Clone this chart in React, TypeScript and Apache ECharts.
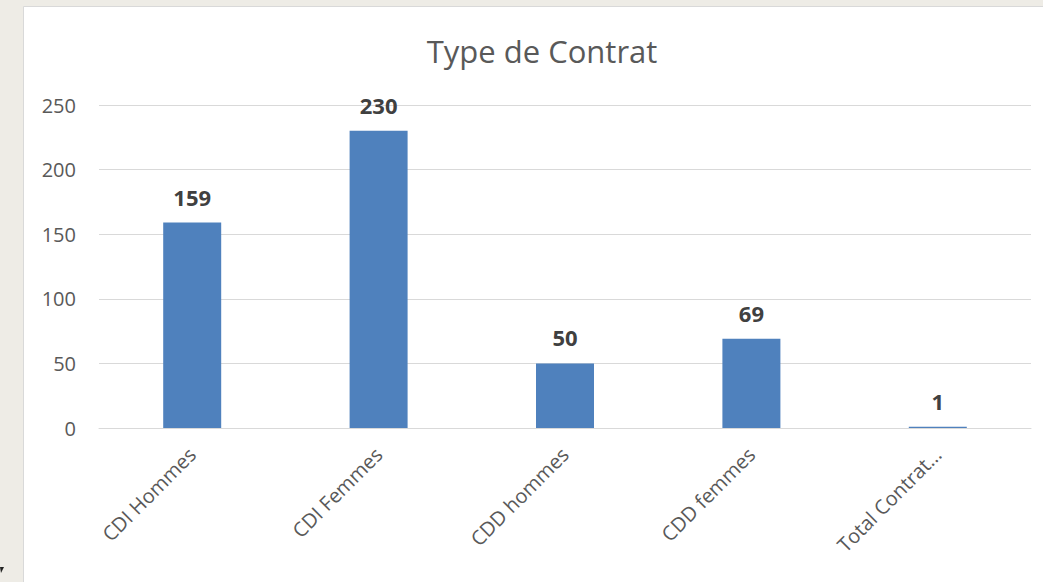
import React, { useEffect, useRef } from "react";
import * as echarts from "echarts";

const categories = ["CDI Hommes", "CDI Femmes", "CDD hommes", "CDD femmes", "Total Contrat…"];
const values = [159, 230, 50, 69, 1];
const yTicks = [0, 50, 100, 150, 200, 250];

export default function App() {
  const ref = useRef<HTMLDivElement>(null);
  useEffect(() => {
    document.body.style.margin = "0";
    const chart = echarts.init(ref.current!, null, { renderer: "svg" });
    const font = "'Open Sans', 'Noto Sans', sans-serif";
    chart.setOption({
      animation: false,
      backgroundColor: "#EEECE6",
      textStyle: { fontFamily: font },
      title: {
        text: "Type de Contrat",
        left: 537,
        textAlign: "center",
        top: 30,
        textStyle: { fontFamily: font, fontSize: 31, fontWeight: "normal", color: "#595959" },
      },
      graphic: [
        {
          type: "rect",
          shape: { x: 23.5, y: 6.5, width: 1030, height: 590 },
          style: { fill: "#ffffff", stroke: "#D9D9D9", lineWidth: 1 },
          z: -10,
        },
        {
          type: "polygon",
          shape: { points: [[0, 567], [4, 567], [1, 573]] },
          style: { fill: "#222" },
        },
      ],
      grid: { left: 99, right: 12, top: 105, bottom: 154, containLabel: false },
      xAxis: {
        type: "category",
        data: categories,
        axisLine: { show: true, lineStyle: { color: "#D9D9D9", width: 1 } },
        axisTick: { show: false },
        axisLabel: {
          rotate: 45,
          interval: 0,
          color: "#595959",
          fontSize: 20,
          fontFamily: font,
          margin: 23,
        },
      },
      yAxis: {
        type: "value",
        min: 0,
        max: 250,
        interval: 50,
        axisLine: { show: false },
        axisTick: { show: false },
        splitLine: { lineStyle: { color: "#D9D9D9", width: 1 } },
        axisLabel: {
          color: "#595959",
          fontSize: 20,
          fontFamily: font,
          margin: 23,
          formatter: (v: number) => (yTicks.includes(v) ? String(v) : ""),
        },
      },
      series: [
        {
          type: "bar",
          data: values,
          barWidth: 58,
          itemStyle: { color: "#4F81BD" },
          label: {
            show: true,
            position: "top",
            distance: 15,
            fontFamily: font,
            fontSize: 22,
            fontWeight: "bold",
            color: "#404040",
          },
        },
      ],
    });
    return () => chart.dispose();
  }, []);
  return <div ref={ref} style={{ width: 1043, height: 582 }} />;
}
